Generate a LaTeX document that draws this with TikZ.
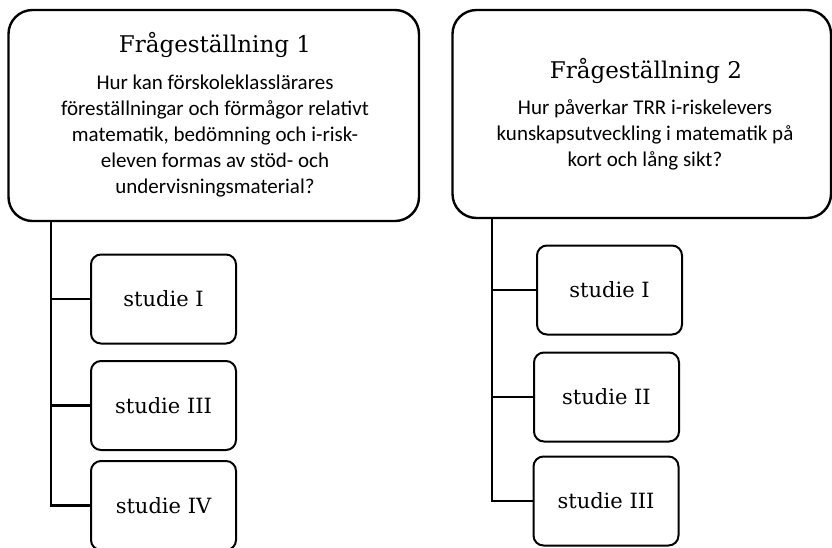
\documentclass[tikz,border=0pt]{standalone}
\usepackage{fontspec}
\setmainfont{DejaVu Serif}
\newfontfamily\bodyfont{Carlito}
\begin{document}
\begin{tikzpicture}[x=1pt,y=-1pt,
 bigbox/.style={draw, line width=2.4pt, rounded corners=24pt, inner sep=0pt},
 smallbox/.style={draw, line width=2pt, rounded corners=10pt, minimum width=145pt, minimum height=89pt, inner sep=0pt, font=\fontsize{21}{25}\selectfont},
 conn/.style={line width=2.2pt},
 qtitle/.style={font=\fontsize{23}{28}\selectfont, anchor=base, inner sep=0pt},
 qbody/.style={font=\bodyfont\fontsize{21}{26}\selectfont, align=center, anchor=base, inner sep=0pt}]
\useasboundingbox (0,0) rectangle (832,547);
% question boxes
\node[bigbox, minimum width=410.5pt, minimum height=211pt] (q1) at (213.75,115.5) {};
\node[bigbox, minimum width=378.5pt, minimum height=208pt] (q2) at (641.75,114) {};
\node[qtitle] (q1t) at (215,52.5) {Frågeställning 1};
\node[qbody] (q1b) at (215,193) {Hur kan förskoleklasslärares\\föreställningar och förmågor relativt\\matematik, bedömning och i-risk-\\eleven formas av stöd- och\\undervisningsmaterial?};
\node[qtitle] (q2t) at (646,78.5) {Frågeställning 2};
\node[qbody] (q2b) at (645,166) {Hur påverkar TRR i-riskelevers\\kunskapsutveckling i matematik på\\kort och lång sikt?};
% studies left
\node[smallbox] (s11) at (163.5,299) {studie I};
\node[smallbox] (s12) at (163.5,405.5) {studie III};
\node[smallbox] (s13) at (163.5,505.5) {studie IV};
% studies right
\node[smallbox] (s21) at (609.5,290) {studie I};
\node[smallbox] (s22) at (606.5,397) {studie II};
\node[smallbox] (s23) at (606,501) {studie III};
% connectors
\coordinate (t1) at (51,221);
\coordinate (t2) at (492,218);
\draw[conn] (t1) |- (s13.west);
\draw[conn] (s11.west) -- (s11.west -| t1);
\draw[conn] (s12.west) -- (s12.west -| t1);
\draw[conn] (t2) |- (s23.west);
\draw[conn] (s21.west) -- (s21.west -| t2);
\draw[conn] (s22.west) -- (s22.west -| t2);
\end{tikzpicture}
\end{document}
